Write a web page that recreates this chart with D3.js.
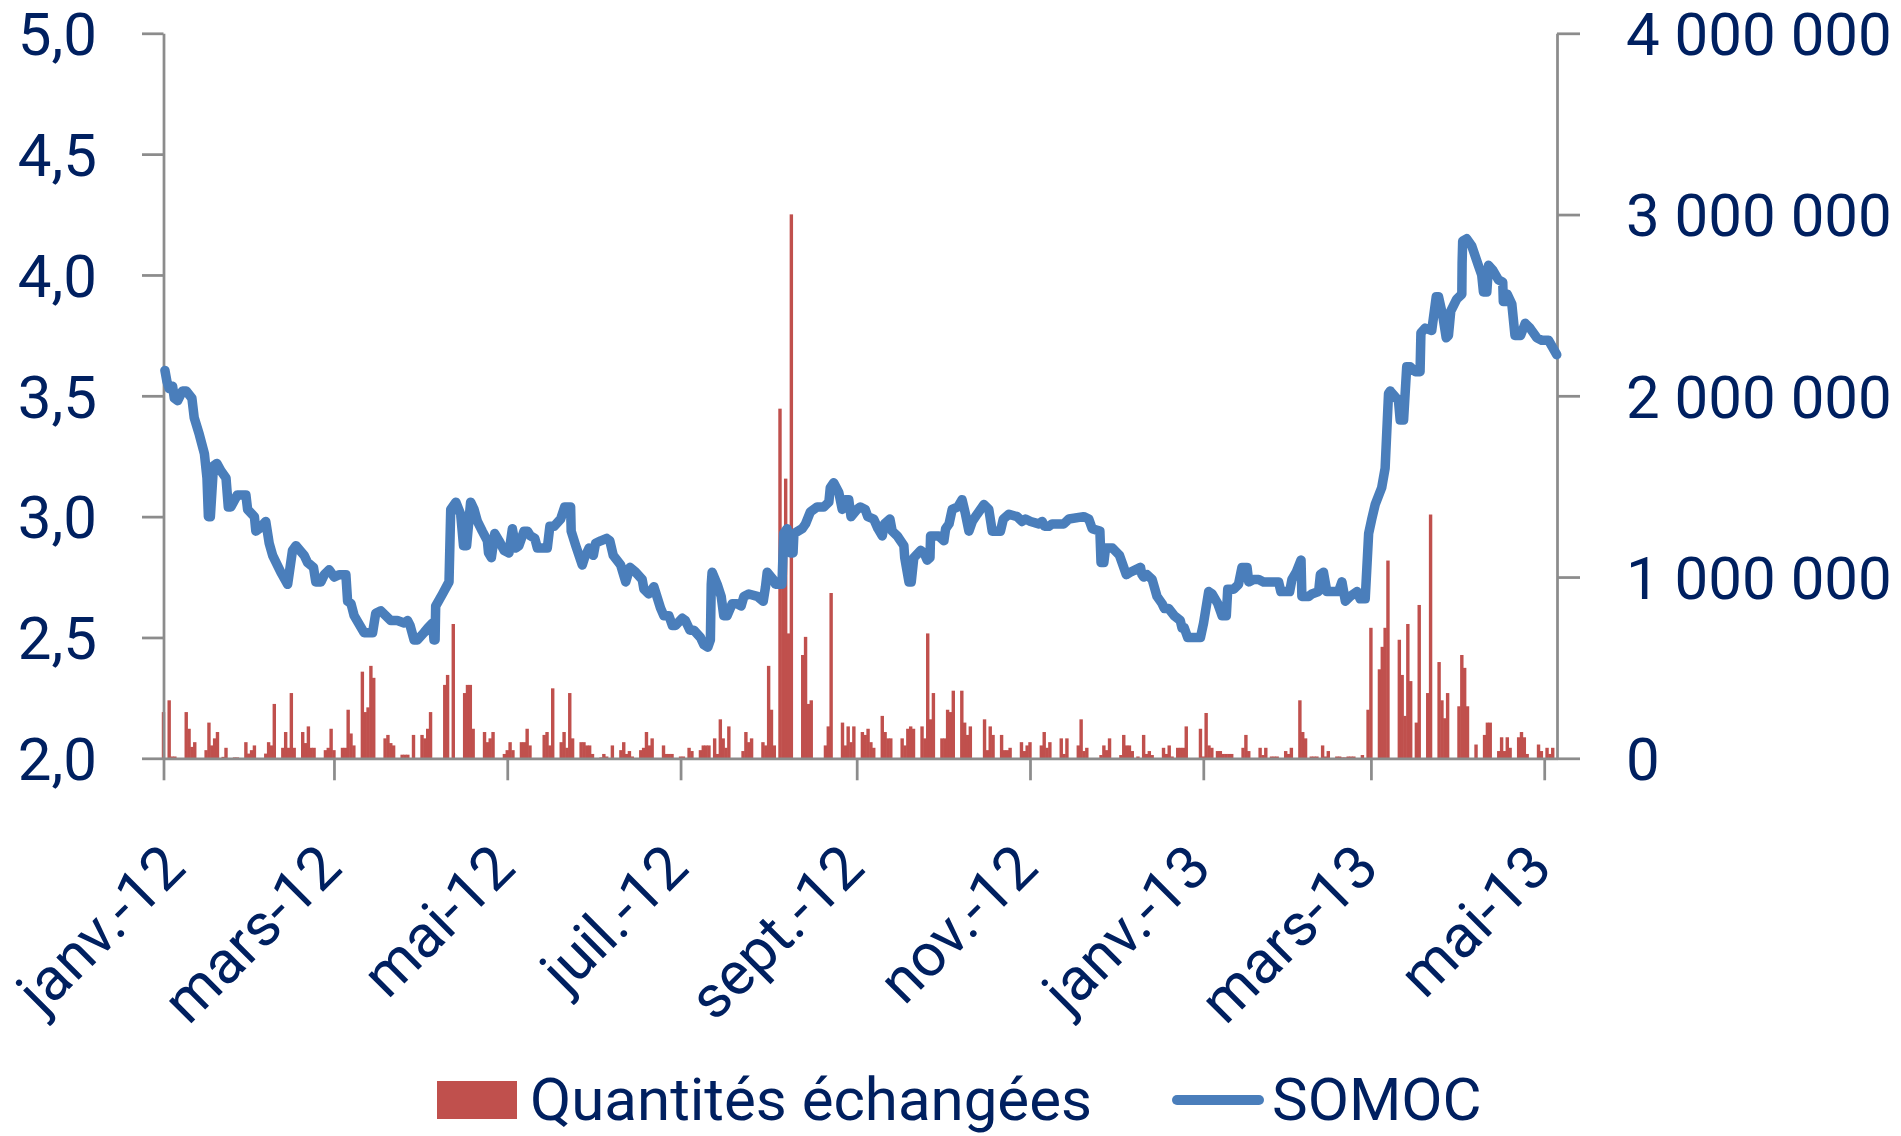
<!DOCTYPE html>
<html>
<head>
<meta charset="utf-8">
<script src="https://cdn.jsdelivr.net/npm/d3@7"></script>
<style>
  html, body { margin: 0; padding: 0; background: #ffffff; }
  svg { display: block; }
  text { font-family: Roboto, "Open Sans", sans-serif; fill: #002060; }
</style>
</head>
<body>
<svg id="chart" width="1901" height="1136"></svg>
<script>
// ---------------- DATA ----------------
// day offsets are counted from 1 January 2012
const baseDate = "2012-01-01";
const axisEndDay = 490.5;

// x-axis ticks (every two months) and their labels
const tickDates  = ["2012-01-01","2012-03-01","2012-05-01","2012-07-01","2012-09-01","2012-11-01","2013-01-01","2013-03-01","2013-05-01"];
const tickLabels = ["janv.-12","mars-12","mai-12","juil.-12","sept.-12","nov.-12","janv.-13","mars-13","mai-13"];

// left axis ticks (price) and right axis ticks (volume)
const leftTicks  = [2.0, 2.5, 3.0, 3.5, 4.0, 4.5, 5.0];
const rightTicks = [0, 1000000, 2000000, 3000000, 4000000];

// SOMOC price line (day offset, value)
const lineDay = [0.5,1.2,2,3.2,3.8,5,6.7,8,10,10.8,12.6,14.4,15.3,15.8,16.5,17.6,18.8,20.2,22,22.8,23.7,26,29,29.6,32,32.5,33.7,36,37.2,38.4,41.3,43.7,45.4,46.6,49.5,50.7,52.8,53.6,55.4,56.6,58.3,60.1,61.8,64.2,64.8,66,67.1,70.6,71.8,73.6,74.7,76.5,80,
 82.3,84.7,85.9,86.8,88.2,89.4,91.7,93.1,94.7,95.2,95.6,95.8,98.2,100.5,101.1,102.9,104.6,105.6,106.7,108.1,109.3,110.5,112.2,114,114.4,115.4,116.6,118.1,119.9,121.6,122.8,124,125.1,126.9,128.1,129.2,130.7,131.6,135.1,136,137.5,139.8,141.2,143.3,143.5,145.1,147.4,148.2,149.8,151.3,152.1,153.9,156,157.1,158.3,160.9,162.7,164.2,
 166.2,168.5,169.1,170.8,172.6,175,176.1,177.9,179.1,180.2,182.6,183.7,185.3,186.7,189,190.2,191.6,192.5,192.8,193.1,194.9,196.3,197.2,198.4,200.2,201.9,203.3,204.3,206,209,211.1,211.9,212.5,214.6,215.4,217.7,218.3,219.5,220.7,221.6,221.9,224.8,226,227.7,230.1,232.4,234.2,234.7,235.9,237.7,238.9,240,241.2,242,244.1,245.3,247,247.9,250,
 251.5,253,253.8,255.7,256.5,258.3,260.6,260.9,262.4,263.2,264.1,266.5,267.7,268.8,269.8,270,272.9,274.7,275.3,276.5,277.6,279.6,281.1,282.3,283.5,284.7,286.4,288.8,290.5,291.7,294.6,295.6,297.6,300.5,302.2,303.4,305.2,308.1,309.3,310.1,311.6,312.8,316.9,318.7,323.9,325.7,326.9,329.6,330,331,331.6,332.4,334,336.5,
 338.9,340.3,343.9,344.4,345,346.2,348,349.7,351.5,352.3,353.8,355.8,357.9,358.5,359.3,360.5,365,366.1,367.9,369.1,371.1,372.6,374.1,374.6,376.7,378.4,379.6,381.4,382,383.7,385.5,387.2,392.5,393.3,396.4,397.2,398.7,400.4,400.7,403.1,404.2,406.6,407.2,408.3,409.5,413.6,414.8,416,417.7,420.1,
 421.2,423,424.2,425.3,426.5,428.8,430,431.2,431.8,434.7,435.3,436.5,437.6,438.8,440.6,442.3,442.6,444.1,446.4,448,448.8,450.3,451.5,452.3,453.1,455.2,457,457.1,457.3,458.7,460.5,462.8,464,464.6,465.8,466.4,467.9,469.9,471.4,471.6,472.6,473,474.6,475.7,477.7,479.3,481,483.4,485.1,487.5,490.4];
const lineValue = [3.605,3.56,3.53,3.54,3.49,3.48,3.52,3.52,3.49,3.41,3.34,3.26,3.16,3.0,3.0,3.21,3.22,3.19,3.16,3.04,3.04,3.09,3.09,3.03,3.0,2.94,2.95,2.98,2.89,2.84,2.77,2.72,2.86,2.88,2.84,2.81,2.79,2.73,2.73,2.76,2.78,2.75,2.76,2.76,2.65,2.64,2.59,2.52,2.52,2.52,2.60,2.61,2.57,
 2.57,2.56,2.57,2.55,2.49,2.49,2.52,2.54,2.56,2.49,2.49,2.63,2.68,2.73,3.03,3.06,3.01,2.88,2.88,3.06,3.03,2.98,2.94,2.90,2.85,2.83,2.93,2.90,2.86,2.85,2.95,2.87,2.88,2.94,2.94,2.92,2.91,2.87,2.87,2.96,2.96,2.99,3.04,3.04,2.94,2.88,2.80,2.83,2.87,2.84,2.89,2.90,2.91,2.90,2.84,2.80,2.73,2.79,
 2.77,2.74,2.70,2.68,2.71,2.62,2.59,2.59,2.55,2.55,2.58,2.57,2.53,2.53,2.50,2.47,2.46,2.49,2.72,2.77,2.72,2.67,2.59,2.59,2.64,2.64,2.63,2.67,2.68,2.67,2.65,2.71,2.77,2.74,2.72,2.72,2.93,2.95,2.85,2.85,2.93,2.95,2.97,3.02,3.04,3.04,3.06,3.12,3.14,3.10,3.03,3.07,3.07,3.00,3.03,3.04,3.03,3.00,2.99,
 2.95,2.92,2.97,2.99,2.94,2.92,2.88,2.83,2.73,2.73,2.83,2.86,2.85,2.82,2.83,2.92,2.92,2.90,2.95,2.97,3.03,3.04,3.07,3.01,2.94,2.98,3.01,3.05,3.03,2.94,2.94,2.99,3.01,3.00,2.98,2.99,2.98,2.97,2.98,2.96,2.96,2.97,2.97,2.99,3.00,2.99,2.95,2.94,2.81,2.81,2.87,2.87,2.87,2.84,
 2.76,2.77,2.79,2.76,2.75,2.76,2.74,2.67,2.64,2.62,2.62,2.59,2.57,2.54,2.54,2.50,2.50,2.56,2.69,2.68,2.64,2.59,2.59,2.70,2.70,2.72,2.79,2.79,2.73,2.74,2.74,2.73,2.73,2.69,2.69,2.74,2.77,2.82,2.67,2.67,2.68,2.69,2.76,2.77,2.69,2.69,2.73,2.65,2.67,2.69,
 2.66,2.66,2.93,2.99,3.05,3.12,3.20,3.51,3.52,3.48,3.40,3.40,3.62,3.62,3.60,3.60,3.76,3.78,3.77,3.91,3.91,3.83,3.74,3.75,3.85,3.90,3.92,4.05,4.14,4.15,4.12,4.04,4.00,3.93,3.93,4.04,4.02,3.98,3.97,3.89,3.89,3.92,3.88,3.75,3.75,3.80,3.78,3.74,3.73,3.73,3.67];

// Traded quantities (day offset, volume in thousands of shares)
const barDay = [0,2,3,4,8,9,10,11,15,16,17,18,19,21,22,25,26,29,30,31,32,36,37,38,39,42,43,44,45,46,49,50,51,52,53,57,58,59,60,63,64,65,66,67,70,71,72,73,74,78,79,80,81,
 84,85,86,88,91,92,93,94,99,100,102,106,107,108,109,113,114,115,116,120,121,122,123,126,127,128,129,134,135,136,137,140,141,142,143,144,147,148,149,150,151,154,155,156,158,161,162,163,164,165,
 168,169,170,171,172,176,177,178,179,182,183,185,186,189,190,191,192,194,195,196,197,198,199,204,205,206,207,211,212,213,214,215,217,218,219,220,221,225,226,227,228,233,234,235,239,240,241,242,243,246,247,248,249,250,
 253,254,255,256,260,261,262,263,264,267,268,269,270,271,274,275,276,277,278,281,282,283,284,289,290,291,292,295,296,297,298,302,303,304,305,309,310,311,312,316,317,318,322,323,324,325,330,331,332,333,
 337,338,339,340,341,343,345,346,347,348,352,353,354,355,357,358,359,360,365,366,367,368,369,371,372,373,374,375,376,380,381,382,386,387,388,390,391,392,395,396,397,400,401,402,404,405,406,408,409,410,413,414,415,416,417,418,419,
 422,424,425,428,429,430,431,435,436,437,438,439,441,442,445,446,449,450,451,452,456,457,458,459,462,465,466,467,470,471,472,473,474,477,478,479,480,484,485,487,488,489];
const barValue = [255,320,10,10,255,163,63,89,45,197,71,110,145,8,58,5,5,89,26,45,71,26,89,71,300,58,145,58,360,58,145,84,176,58,58,45,58,163,45,58,58,268,137,71,478,255,281,510,444,110,129,84,71,
 20,20,20,129,129,110,163,255,405,460,741,360,405,405,163,145,89,110,145,24,45,89,45,89,89,163,71,129,145,71,386,89,145,58,360,110,89,89,71,71,24,5,24,10,71,45,89,24,40,10,
 45,58,145,71,110,71,24,24,24,10,10,58,40,45,71,71,71,110,24,215,110,58,176,40,145,89,110,89,71,510,268,71,1929,1188,1543,689,3001,570,670,300,320,71,176,912,197,71,176,89,176,145,129,163,89,58,
 234,145,110,110,110,71,163,176,163,176,110,689,215,360,110,110,268,255,373,373,197,129,176,215,45,176,129,129,45,45,58,89,40,71,89,71,145,58,89,110,24,110,71,215,40,58,18,71,45,110,
 18,129,71,71,40,10,129,24,40,18,58,24,71,10,58,58,58,176,163,10,250,71,58,40,40,24,24,24,24,58,129,40,58,18,58,10,10,10,40,24,58,320,145,110,10,10,10,71,10,40,10,10,5,5,10,10,10,
 18,268,720,491,615,720,1091,654,460,234,741,426,197,846,360,1345,531,320,221,360,287,570,499,287,76,129,197,197,40,116,40,116,58,116,145,116,24,76,40,58,24,58];

const seriesNames = ["Quantités échangées", "SOMOC"];

// ---------------- LAYOUT ----------------
const plot = { left: 163.5, right: 1557, top: 33.3, bottom: 758.3 };
const colors = { bar: "#C0504D", line: "#4A7EBB", axis: "#8C8C8C", text: "#002060" };
const fontSize = 60;

const svg = d3.select("#chart");
const base = new Date(baseDate + "T00:00:00Z");
const toDate = d => new Date(base.getTime() + d * 864e5);

const x = d3.scaleUtc().domain([base, toDate(axisEndDay)]).range([plot.left, plot.right]);
const yL = d3.scaleLinear().domain([2, 5]).range([plot.bottom, plot.top]);
const yR = d3.scaleLinear().domain([0, 4000000]).range([plot.bottom, plot.top]);

const fr = d3.formatLocale({ decimal: ",", thousands: " ", grouping: [3], currency: ["", " €"] });
const fmtL = fr.format(".1f");
const fmtR = fr.format(",d");

// bars
const dayW = x(toDate(1)) - x(toDate(0));
const barW = dayW * 1.2;
const bars = barDay.map((d, i) => ({ day: d, v: barValue[i] * 1000 }));
svg.append("g")
  .selectAll("rect")
  .data(bars)
  .join("rect")
  .attr("x", d => x(toDate(d.day)) - barW / 2)
  .attr("width", barW)
  .attr("y", d => yR(d.v))
  .attr("height", d => yR(0) - yR(d.v))
  .attr("fill", colors.bar);

// axes
function styleAxis(g) {
  g.selectAll(".domain").attr("stroke", colors.axis).attr("stroke-width", 2.75);
  g.selectAll(".tick line").attr("stroke", colors.axis).attr("stroke-width", 2.75);
  g.selectAll("text").style("font-size", fontSize + "px").attr("fill", colors.text);
}

const gL = svg.append("g").attr("transform", `translate(${plot.left},0)`)
  .call(d3.axisLeft(yL).tickValues(leftTicks).tickFormat(fmtL).tickSize(21.5).tickSizeOuter(0).tickPadding(45));
styleAxis(gL);
gL.selectAll("text").attr("dy", "0.355em");

const gR = svg.append("g").attr("transform", `translate(${plot.right},0)`)
  .call(d3.axisRight(yR).tickValues(rightTicks).tickFormat(fmtR).tickSize(23).tickSizeOuter(0).tickPadding(46));
styleAxis(gR);
gR.selectAll("text").attr("dy", "0.355em");

const tickDateObjs = tickDates.map(s => new Date(s + "T00:00:00Z"));
const gX = svg.append("g").attr("transform", `translate(0,${plot.bottom})`)
  .call(d3.axisBottom(x).tickValues(tickDateObjs).tickFormat((d, i) => tickLabels[i]).tickSize(22).tickSizeOuter(0));
styleAxis(gX);
gX.selectAll("text").each(function(d, i) {
  // keep the first (leftmost) label fully inside the picture
  const ax = i === 0 ? 24 : 10, ay = 112;
  d3.select(this)
    .attr("x", ax).attr("y", ay).attr("dy", 0)
    .attr("text-anchor", "end")
    .attr("transform", `rotate(-45,${ax},${ay})`);
});

// line
const pts = lineDay.map((d, i) => [x(toDate(d)), yL(lineValue[i])]);
svg.append("path")
  .attr("d", d3.line()(pts))
  .attr("fill", "none")
  .attr("stroke", colors.line)
  .attr("stroke-width", 9.5)
  .attr("stroke-linejoin", "round")
  .attr("stroke-linecap", "round");

// legend
const lg = svg.append("g");
lg.append("rect").attr("x", 437).attr("y", 1081).attr("width", 80).attr("height", 38).attr("fill", colors.bar);
lg.append("text").attr("x", 530).attr("y", 1120).style("font-size", fontSize + "px").text(seriesNames[0]);
lg.append("line").attr("x1", 1177).attr("x2", 1259).attr("y1", 1100).attr("y2", 1100)
  .attr("stroke", colors.line).attr("stroke-width", 10).attr("stroke-linecap", "round");
lg.append("text").attr("x", 1272).attr("y", 1120).style("font-size", fontSize + "px").text(seriesNames[1]);
</script>
</body>
</html>
